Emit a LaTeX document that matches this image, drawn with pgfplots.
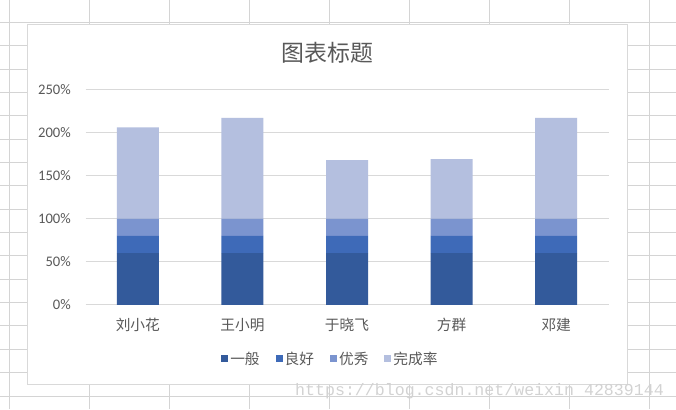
\documentclass[border=0pt]{standalone}
\usepackage{pgfplots}
\pgfplotsset{compat=1.18}
\usepackage{fontspec}
\setmainfont{Carlito}
\newfontfamily\cjk{Noto Sans CJK SC}
\definecolor{cA}{HTML}{335A9B}
\definecolor{cB}{HTML}{3E6AB8}
\definecolor{cC}{HTML}{7B94CF}
\definecolor{cD}{HTML}{B4BFDF}
\definecolor{txt}{HTML}{595959}
\definecolor{sheet}{HTML}{D4D4D4}
\definecolor{gridc}{HTML}{D9D9D9}
\definecolor{wm}{HTML}{D2D2D2}
\pgfplotsset{sqlegend/.style={legend image code/.code={\fill[##1,draw=none] (0pt,-3.5pt) rectangle (7pt,3.5pt);}}}
\begin{document}
\begin{tikzpicture}[x=1pt,y=1pt]
\useasboundingbox (0,0) rectangle (676,409);
% spreadsheet background
\begin{scope}
\clip (0,0) rectangle (676,409);
\foreach \k in {0,...,8} {\draw[sheet,line width=1pt] ({9.3+80*\k},0) -- ({9.3+80*\k},409);}
\foreach \k in {0,...,16} {\draw[sheet,line width=1pt] (0,{409-22.3-23.36*\k}) -- (676,{409-22.3-23.36*\k});}
\end{scope}
% chart area
\draw[gridc,fill=white,line width=1pt] (27.3,25) rectangle (627.3,384);
\node[text=txt,font=\cjk\fontsize{22.9pt}{26pt}\selectfont] at (327.3,356) {图表标题};
\begin{axis}[
  at={(85.5pt,104pt)}, anchor=south west,
  scale only axis, width=523pt, height=215.7pt,
  ybar stacked, bar width=42pt,
  xmin=-0.5, xmax=4.5, ymin=0, ymax=250,
  xtick={0,1,2,3,4},
  xticklabels={刘小花,王小明,于晓飞,方群,邓建},
  ytick={0,50,100,150,200,250},
  yticklabel={\pgfmathprintnumber{\tick}\%},
  /pgf/number format/assume math mode=true,
  axis line style={draw=none},
  major tick style={draw=none},
  major tick length=0pt,
  ymajorgrids, grid style={gridc,line width=1pt},
  yticklabel style={font=\fontsize{14.6pt}{17pt}\selectfont, text=txt, anchor=east, inner sep=0pt, xshift=-14.5pt},
  xticklabel style={font=\cjk\fontsize{14.7pt}{17pt}\selectfont, text=txt, anchor=center, inner sep=0pt, yshift=-20pt},
  legend columns=4,
  legend style={at={(0.4683,-0.2503)}, anchor=center, draw=none, fill=none,
    font=\cjk\fontsize{14.7pt}{17pt}\selectfont, text=txt,
    /tikz/every even column/.append style={column sep=14pt}},
]
\addplot[fill=cA,draw=none,sqlegend] coordinates {(0,60) (1,60) (2,60) (3,60) (4,60)};
\addlegendentry{一般}
\addplot[fill=cB,draw=none,sqlegend] coordinates {(0,20) (1,20) (2,20) (3,20) (4,20)};
\addlegendentry{良好}
\addplot[fill=cC,draw=none,sqlegend] coordinates {(0,20) (1,20) (2,20) (3,20) (4,20)};
\addlegendentry{优秀}
\addplot[fill=cD,draw=none,sqlegend] coordinates {(0,106) (1,117) (2,68) (3,69) (4,117)};
\addlegendentry{完成率}
\end{axis}
\node[anchor=base west,inner sep=0pt,text=wm,font=\fontspec{Liberation Mono}\fontsize{16.6pt}{18pt}\selectfont] at (295,13.5) {https://blog.csdn.net/weixin\textunderscore 42839144};
\end{tikzpicture}
\end{document}
